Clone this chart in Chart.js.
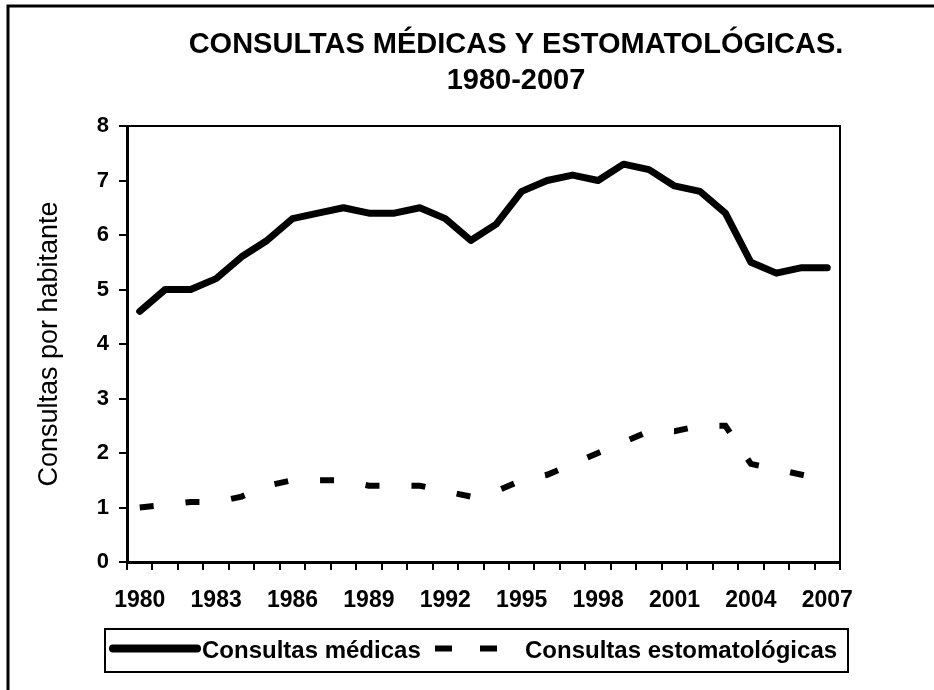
<!DOCTYPE html>
<html>
<head>
<meta charset="utf-8">
<script src="https://cdn.jsdelivr.net/npm/chart.js@4.4.1/dist/chart.umd.min.js"></script>
<style>
html,body{margin:0;padding:0;background:#fff;}
#wrap{width:934px;height:690px;position:relative;}
</style>
</head>
<body>
<div id="wrap"><canvas id="c" width="934" height="690"></canvas></div>
<script>
const years = ['1980','1981','1982','1983','1984','1985','1986','1987','1988','1989','1990','1991','1992','1993','1994','1995','1996','1997','1998','1999','2000','2001','2002','2003','2004','2005','2006','2007'];
const tickLabels = ['1980','1983','1986','1989','1992','1995','1998','2001','2004','2007'];
const medicas = [4.6,5.0,5.0,5.2,5.6,5.9,6.3,6.4,6.5,6.4,6.4,6.5,6.3,5.9,6.2,6.8,7.0,7.1,7.0,7.3,7.2,6.9,6.8,6.4,5.5,5.3,5.4,5.4];
const estomatologicas = [1.0,1.05,1.1,1.1,1.2,1.4,1.5,1.5,1.5,1.4,1.4,1.4,1.3,1.2,1.3,1.5,1.6,1.8,2.0,2.2,2.4,2.4,2.5,2.5,1.8,1.7,1.6,1.5];
const yTicks = [0,1,2,3,4,5,6,7,8];
const titleLines = ['CONSULTAS MÉDICAS Y ESTOMATOLÓGICAS.', '1980-2007'];
const yTitle = 'Consultas por habitante';
const seriesLabels = ['Consultas médicas', 'Consultas estomatológicas'];

const FAM = "Arial, 'Liberation Sans', sans-serif";

const decor = {
  id: 'decor',
  beforeDraw(chart) {
    const ctx = chart.ctx;
    ctx.save();
    ctx.fillStyle = '#fff';
    ctx.fillRect(0, 0, chart.width, chart.height);
    ctx.restore();
  },
  afterDraw(chart) {
    const ctx = chart.ctx;
    const a = chart.chartArea;
    ctx.save();
    // plot frame (top and right)
    ctx.strokeStyle = '#000';
    ctx.lineWidth = 2;
    ctx.beginPath();
    ctx.moveTo(a.left, a.top);
    ctx.lineTo(a.right, a.top);
    ctx.lineTo(a.right, a.bottom);
    ctx.stroke();
    // outer frame (left and top, as in the cropped original)
    ctx.lineWidth = 3;
    ctx.beginPath();
    ctx.moveTo(8, chart.height);
    ctx.lineTo(8, 6);
    ctx.lineTo(chart.width, 6);
    ctx.stroke();
    // title
    ctx.fillStyle = '#000';
    ctx.font = 'bold 29px ' + FAM;
    ctx.textAlign = 'center';
    ctx.textBaseline = 'middle';
    ctx.fillText(titleLines[0], 516, 45);
    ctx.fillText(titleLines[1], 516, 81);
    // legend
    const lx = 105, ly = 629, lw = 743, lh = 43;
    ctx.lineWidth = 2;
    ctx.strokeRect(lx, ly, lw, lh);
    const ds = chart.data.datasets;
    const cy = ly + lh / 2;
    ctx.font = 'bold 24px ' + FAM;
    ctx.textAlign = 'left';
    // item 1
    ctx.lineWidth = ds[0].borderWidth + 1;
    ctx.lineCap = 'round';
    ctx.setLineDash([]);
    ctx.beginPath();
    ctx.moveTo(113, cy - 2);
    ctx.lineTo(197, cy - 2);
    ctx.stroke();
    ctx.fillText(ds[0].label, 202, cy + 1);
    // item 2
    ctx.lineWidth = ds[1].borderWidth;
    ctx.lineCap = 'butt';
    ctx.setLineDash([17, 28]);
    ctx.beginPath();
    ctx.moveTo(435, cy - 2);
    ctx.lineTo(497, cy - 2);
    ctx.stroke();
    ctx.setLineDash([]);
    ctx.fillText(ds[1].label, 525, cy + 1);
    ctx.restore();
  }
};

const chart = new Chart(document.getElementById('c'), {
  type: 'line',
  data: {
    labels: years,
    datasets: [
      {
        label: seriesLabels[0],
        data: medicas,
        borderColor: '#000',
        backgroundColor: '#000',
        borderWidth: 7,
        borderCapStyle: 'round',
        borderJoinStyle: 'round',
        pointRadius: 0,
        tension: 0,
        fill: false
      },
      {
        label: seriesLabels[1],
        data: estomatologicas,
        borderColor: '#000',
        backgroundColor: '#000',
        borderWidth: 6,
        borderDash: [14, 32],
        borderCapStyle: 'butt',
        borderJoinStyle: 'miter',
        pointRadius: 0,
        tension: 0,
        fill: false
      }
    ]
  },
  options: {
    responsive: false,
    devicePixelRatio: 1,
    animation: false,
    events: [],
    layout: { padding: { left: 0, right: 94, top: 126, bottom: 60 } },
    plugins: {
      legend: { display: false },
      title: { display: false },
      tooltip: { enabled: false }
    },
    scales: {
      x: {
        type: 'category',
        offset: true,
        afterFit(scale) { scale.height = 68; },
        border: { display: true, color: '#000', width: 3 },
        grid: { display: true, offset: true, drawOnChartArea: false, drawTicks: true, tickLength: 8, color: '#000', lineWidth: 2 },
        ticks: {
          autoSkip: false,
          maxRotation: 0,
          minRotation: 0,
          padding: 17,
          color: '#000',
          font: { family: FAM, size: 23, weight: 'bold' },
          callback(value, index) {
            const lab = years[index];
            return tickLabels.includes(lab) ? lab : '';
          }
        }
      },
      y: {
        min: yTicks[0],
        max: yTicks[yTicks.length - 1],
        afterFit(scale) { scale.width = 127; },
        afterBuildTicks(scale) { scale.ticks = yTicks.map(v => ({ value: v })); },
        border: { display: true, color: '#000', width: 3 },
        grid: { display: true, drawOnChartArea: false, drawTicks: true, tickLength: 8, color: '#000', lineWidth: 2 },
        ticks: {
          padding: 10,
          color: '#000',
          font: { family: FAM, size: 22, weight: 'bold' }
        },
        title: {
          display: true,
          text: yTitle,
          color: '#000',
          font: { family: FAM, size: 27, weight: 'normal' },
          padding: { top: 33, bottom: 0 }
        }
      }
    }
  },
  plugins: [decor]
});
</script>
</body>
</html>
